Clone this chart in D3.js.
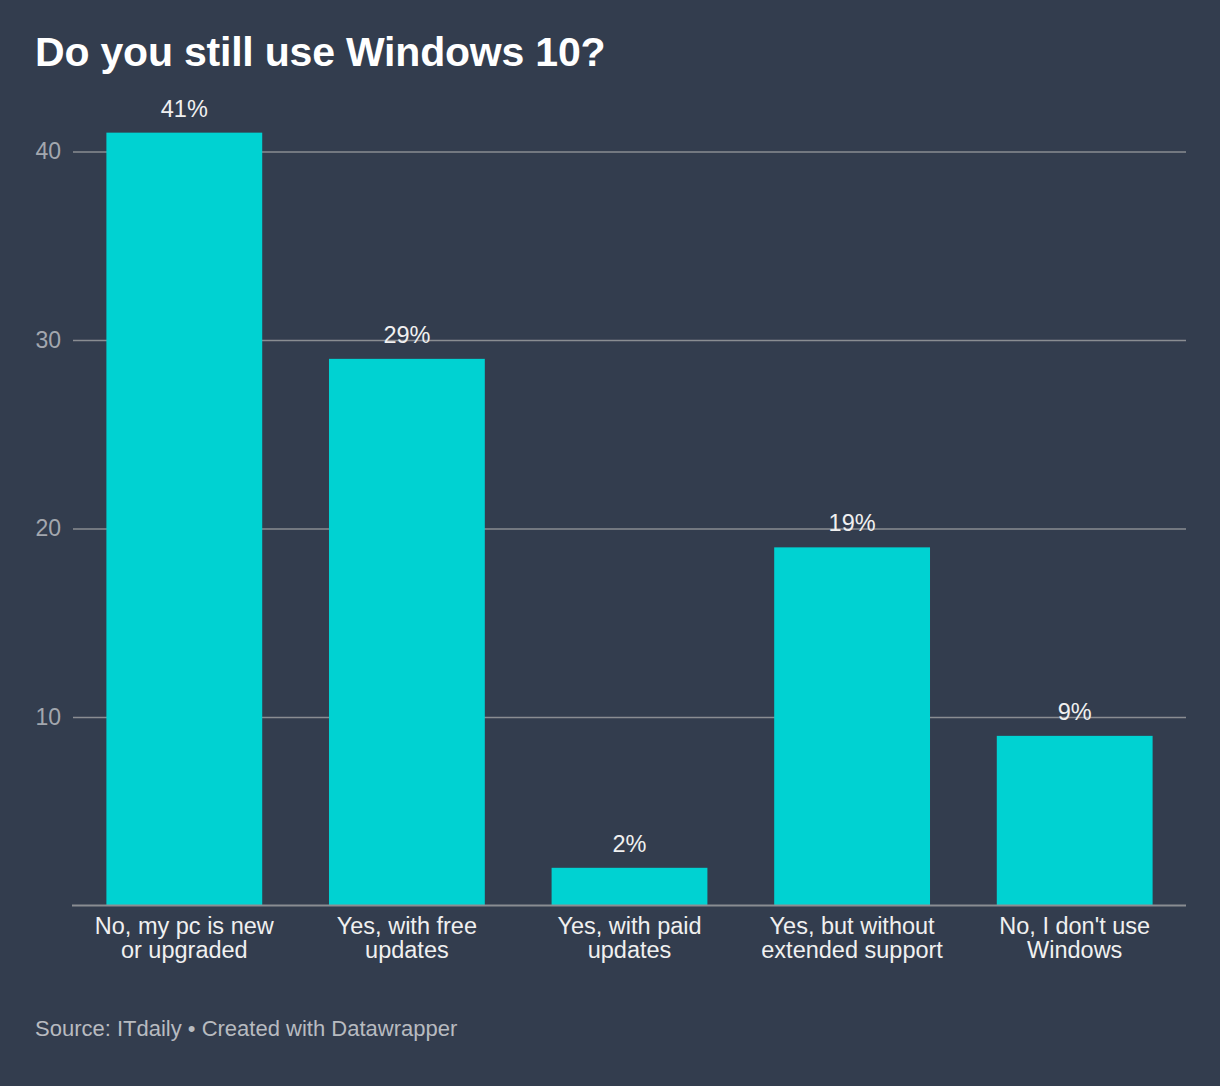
<!DOCTYPE html>
<html>
<head>
<meta charset="utf-8">
<script src="https://cdn.jsdelivr.net/npm/d3@7"></script>
<style>
  html, body { margin: 0; padding: 0; background: #333d4e; }
  svg { display: block; }
  text { font-family: "Liberation Sans", Arial, Helvetica, sans-serif; }
</style>
</head>
<body>
<svg id="chart" width="1220" height="1086"></svg>
<script>
const categories = [
  ["No, my pc is new", "or upgraded"],
  ["Yes, with free", "updates"],
  ["Yes, with paid", "updates"],
  ["Yes, but without", "extended support"],
  ["No, I don't use", "Windows"]
];
const values = [41, 29, 2, 19, 9];
const yTicks = [10, 20, 30, 40];
const title = "Do you still use Windows 10?";
const source = "Source: ITdaily • Created with Datawrapper";

(function () {
const W = 1220, H = 1086;
const svg = d3.select("#chart");
svg.append("rect").attr("width", W).attr("height", H).attr("fill", "#333d4e");

const plotLeft = 73, plotRight = 1186, plotBottom = 905.5;
const x = d3.scaleBand().domain(d3.range(values.length)).range([plotLeft, plotRight])
  .paddingInner(0.3).paddingOuter(0.15);
const y = d3.scaleLinear().domain([0, 48]).range([plotBottom, plotBottom - 48 * 18.85]);

svg.append("text").attr("x", 35).attr("y", 66)
  .attr("fill", "#ffffff").attr("font-size", 41).attr("font-weight", "bold")
  .attr("letter-spacing", -0.2)
  .text(title);

const yAxis = d3.axisLeft(y).tickValues(yTicks).tickSize(-(plotRight - plotLeft)).tickPadding(10);
const gy = svg.append("g").attr("transform", `translate(${plotLeft},0)`).call(yAxis);
gy.select(".domain").remove();
gy.selectAll(".tick line").attr("stroke", "#8a8d92").attr("stroke-width", 1.5);
gy.selectAll(".tick text").attr("fill", "#a3a7ae").attr("font-size", 23)
  .attr("font-family", "Liberation Sans, Arial, sans-serif").attr("x", -12);

svg.append("g").selectAll("rect").data(values).join("rect")
  .attr("x", (d, i) => x(i)).attr("width", x.bandwidth())
  .attr("y", d => y(d)).attr("height", d => y(0) - y(d))
  .attr("fill", "#00d2d2");

svg.append("line").attr("x1", plotLeft - 1).attr("x2", plotRight).attr("y1", y(0)).attr("y2", y(0))
  .attr("stroke", "#8a8d92").attr("stroke-width", 2);

svg.append("g").selectAll("text").data(values).join("text")
  .attr("x", (d, i) => x(i) + x.bandwidth() / 2).attr("y", d => y(d) - 16)
  .attr("text-anchor", "middle").attr("fill", "#f0f0f0").attr("font-size", 23.5)
  .text(d => d + "%");

const xg = svg.append("g");
categories.forEach((lines, i) => {
  const cx = x(i) + x.bandwidth() / 2;
  const t = xg.append("text").attr("x", cx).attr("y", 934)
    .attr("text-anchor", "middle").attr("fill", "#f0f0f0").attr("font-size", 23.5);
  lines.forEach((l, j) => t.append("tspan").attr("x", cx)
    .attr("dy", j === 0 ? 0 : 23.5).text(l));
});

svg.append("text").attr("x", 35).attr("y", 1036).attr("fill", "#b8bbc0")
  .attr("font-size", 22).text(source);
})();
</script>
</body>
</html>
